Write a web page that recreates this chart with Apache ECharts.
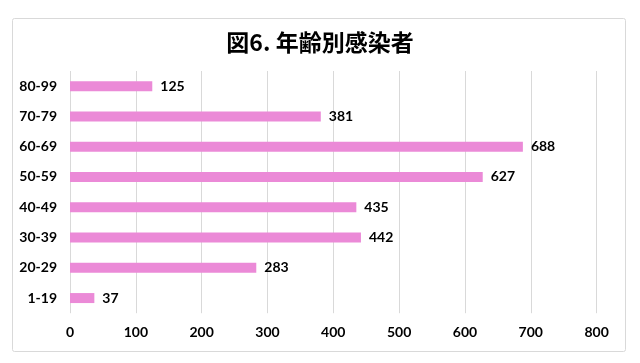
<!DOCTYPE html>
<html><head><meta charset="utf-8">
<script src="https://cdn.jsdelivr.net/npm/echarts@6/dist/echarts.min.js"></script>
<style>html,body{margin:0;padding:0;background:#fff}#c{width:640px;height:363px}</style>
</head><body><div id="c"></div>
<script>
const titleText = '図6. 年齢別感染者';
const categories = ['1-19','20-29','30-39','40-49','50-59','60-69','70-79','80-99'];
const values = [37, 283, 442, 435, 627, 688, 381, 125];
const xTicks = {min: 0, max: 800, interval: 100};

const chart = echarts.init(document.getElementById('c'), null, {renderer: 'canvas'});
const font = 'Lato, "Noto Sans CJK JP", sans-serif';
chart.setOption({
  animation: false,
  backgroundColor: '#fff',
  title: {
    text: titleText, left: 'center', top: 26,
    textStyle: {fontFamily: '"Noto Sans CJK JP", sans-serif', fontWeight: 'bold', fontSize: 23, color: '#000'}
  },
  graphic: [{
    type: 'rect', left: 10, top: 16, shape: {width: 613, height: 333, r: 2},
    style: {fill: 'none', stroke: '#d9d9d9', lineWidth: 1}, silent: true, z: -1
  }],
  grid: {left: 70, right: 43.4, top: 71, bottom: 49.8},
  xAxis: {
    type: 'value', min: xTicks.min, max: xTicks.max, interval: xTicks.interval,
    axisLine: {show: false}, axisTick: {show: false},
    splitLine: {show: true, lineStyle: {color: '#d9d9d9', width: 1}},
    axisLabel: {fontFamily: font, fontWeight: 'bold', fontSize: 14, color: '#000', margin: 12}
  },
  yAxis: {
    type: 'category', data: categories,
    axisLine: {show: false}, axisTick: {show: false},
    axisLabel: {fontFamily: font, fontWeight: 'bold', fontSize: 14, color: '#000', margin: 13}
  },
  series: [{
    type: 'bar', data: values, barWidth: 10,
    itemStyle: {color: '#EB8AD7'},
    label: {show: true, position: 'right', distance: 8, fontFamily: font, fontWeight: 'bold', fontSize: 14, color: '#000'}
  }]
});
</script></body></html>
